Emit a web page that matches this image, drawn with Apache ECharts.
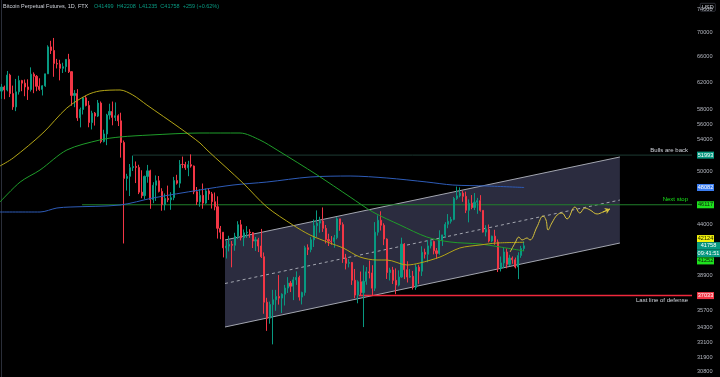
<!DOCTYPE html>
<html>
<head>
<meta charset="utf-8">
<script src="https://cdn.jsdelivr.net/npm/echarts/dist/echarts.min.js"></script>
<style>
  html, body { margin: 0; padding: 0; background: #000; }
  #chart { width: 720px; height: 377px; }
</style>
</head>
<body>
<div id="chart"></div>
<script>
// Daily candles, first day 2021-10-23, rows are [open, high, low, close]
const firstDay = '2021-10-23';
const candles = [
  [60688, 61747, 59562, 61286], [61286, 61500, 59510, 60852], [60852, 63710, 60650, 63078],
  [63078, 63293, 59817, 60328], [60328, 61496, 58000, 58413], [58413, 62499, 57820, 60575],
  [60575, 62980, 60174, 62253], [62253, 62359, 60673, 61859], [61859, 62405, 59945, 61300],
  // Nov
  [61300, 62437, 59405, 60911], [60911, 64270, 60624, 63219], [63219, 63500, 60382, 62896],
  [62896, 63086, 60677, 61395], [61395, 62595, 60721, 60937], [60937, 61560, 60050, 61470],
  [61470, 63286, 61322, 63273], [63273, 67789, 63273, 67525], [67525, 68530, 66382, 66947],
  [66947, 69000, 62822, 64882], [64882, 65600, 64100, 64774], [64774, 65450, 62278, 64122],
  [64122, 64990, 63401, 64380], [64380, 65550, 63576, 65519], [65519, 66401, 63400, 63606],
  [63606, 63617, 58574, 60058], [60058, 60840, 58373, 60344], [60344, 60976, 56474, 56891],
  [56891, 58320, 55600, 58052], [58052, 59845, 57353, 59707], [59707, 60029, 58486, 58622],
  [58622, 59266, 55610, 56247], [56247, 57875, 55317, 57541], [57541, 57700, 55837, 57138],
  [57138, 59398, 57000, 58960], [58960, 59188, 53500, 53726], [53726, 55280, 53610, 54721],
  [54721, 57445, 53256, 57274], [57274, 58865, 56666, 57776], [57776, 59176, 55875, 56950],
  // Dec
  [56950, 59053, 56458, 57184], [57184, 57375, 55777, 56480], [56480, 57600, 51680, 53601],
  [53601, 53859, 42000, 49152], [49152, 49699, 47727, 49396], [49396, 50891, 47100, 50441],
  [50441, 51936, 50039, 50589], [50589, 51200, 48600, 50471], [50471, 50797, 47320, 47545],
  [47545, 50125, 46852, 47140], [47140, 49485, 46751, 49389], [49389, 50777, 48638, 50053],
  [50053, 50189, 45672, 46702], [46702, 48700, 46290, 48343], [48343, 49500, 46547, 48864],
  [48864, 49436, 47511, 47632], [47632, 47995, 45456, 46131], [46131, 47392, 45500, 46834],
  [46834, 48300, 46406, 46681], [46681, 47537, 45558, 46914], [46914, 49328, 46630, 48889],
  [48889, 49576, 48421, 48588], [48588, 51375, 48050, 50838], [50838, 51810, 50384, 50821],
  [50821, 51156, 50171, 50428], [50428, 51280, 49412, 50809], [50809, 52088, 50449, 50640],
  [50640, 50704, 47313, 47588], [47588, 48139, 46096, 46444], [46444, 47900, 45900, 47178],
  [47178, 48548, 45678, 46306],
  // Jan
  [46306, 47954, 46208, 47686], [47686, 47990, 46654, 47345], [47345, 47570, 45696, 46458],
  [46458, 47505, 45502, 45897], [45897, 47070, 42500, 43569], [43569, 43816, 42430, 43160],
  [43160, 43145, 40610, 41557], [41557, 42300, 40501, 41733], [41733, 42786, 41200, 41911],
  [41911, 42248, 39650, 41821], [41821, 43100, 41268, 42735], [42735, 44322, 42450, 43949],
  [43949, 44458, 42311, 42591], [42591, 43448, 41725, 43099], [43099, 43800, 42568, 43177],
  [43177, 43476, 42578, 43113], [43113, 43180, 41540, 42250], [42250, 42675, 41250, 42375],
  [42375, 42578, 41138, 41744], [41744, 43505, 40553, 40680], [40680, 41100, 35440, 36445],
  [36445, 36835, 34008, 35071], [35071, 36499, 34601, 36244], [36244, 37550, 32917, 36660],
  [36660, 37545, 35701, 36958], [36958, 38919, 36234, 36809], [36809, 37234, 35507, 37160],
  [37160, 38000, 36155, 37716], [37716, 38720, 37268, 38166], [38166, 38359, 37351, 37881],
  [37881, 38744, 36632, 38466],
  // Feb
  [38466, 39265, 38000, 38694], [38694, 38855, 36586, 36896], [36896, 37387, 36250, 37311],
  [37311, 41772, 37026, 41574], [41574, 41913, 40843, 41382], [41382, 42656, 41116, 42380],
  [42380, 44500, 41645, 43840], [43840, 45492, 42666, 44118], [44118, 44798, 43117, 44338],
  [44338, 45821, 43187, 43565], [43565, 43920, 42000, 42407], [42407, 43000, 41748, 42244],
  [42244, 42760, 41867, 42197], [42197, 42876, 41570, 42586], [42586, 44750, 42428, 44575],
  [44575, 44585, 43310, 43961], [43961, 44200, 40073, 40538], [40538, 40959, 39450, 40031],
  [40031, 40444, 39639, 40122], [40122, 40150, 38000, 38431], [38431, 39494, 36800, 37075],
  [37075, 38429, 36350, 38287], [38287, 39249, 37036, 37296], [37296, 39843, 34322, 38328],
  [38328, 39683, 38014, 39219], [39219, 40300, 38600, 39116], [39116, 39855, 37000, 37700],
  [37700, 44225, 37450, 43160],
  // Mar
  [43160, 44949, 42809, 44421], [44421, 45400, 43334, 43892], [43892, 44101, 41832, 42454],
  [42454, 42527, 38550, 39148], [39148, 39613, 38407, 39397], [39397, 39693, 38088, 38420],
  [38420, 39547, 37155, 37988], [37988, 39362, 37867, 38730], [38730, 42594, 38656, 41941],
  [41941, 42039, 38539, 39422], [39422, 40236, 38223, 38729], [38729, 39486, 38660, 38807],
  [38807, 39310, 37578, 37777], [37777, 39947, 37555, 39671], [39671, 39887, 38098, 39280],
  [39280, 41718, 38828, 41114], [41114, 41478, 40500, 40917], [40917, 42325, 40135, 41757],
  [41757, 42400, 41499, 42201], [42201, 42296, 40911, 41262], [41262, 41544, 40467, 41002],
  [41002, 43361, 40875, 42364], [42364, 42893, 41751, 42882], [42882, 44220, 42560, 43991],
  [43991, 45094, 43579, 44313], [44313, 44792, 44071, 44511], [44511, 46999, 44422, 46827],
  [46827, 48189, 46663, 47122], [47122, 48096, 46950, 47434], [47434, 47700, 46445, 47067],
  [47067, 47600, 45200, 45510],
  // Apr
  [45510, 46720, 44200, 46283], [46283, 47213, 45620, 45811], [45811, 47444, 45530, 46407],
  [46407, 46890, 45118, 46580], [46580, 47200, 45353, 45497], [45497, 45507, 43121, 43170],
  [43170, 43900, 42727, 43444], [43444, 43970, 42107, 42252], [42252, 42800, 42125, 42753],
  [42753, 43410, 41868, 42158], [42158, 42414, 39200, 39530], [39530, 40699, 39254, 40074],
  [40074, 41561, 39588, 41147], [41147, 41500, 39551, 39942], [39942, 40870, 39766, 40551],
  [40551, 40709, 39991, 40378], [40378, 40595, 39546, 39678], [39678, 41116, 38536, 40801],
  [40801, 41760, 40571, 41500], [41499, 42208, 41235, 41758]
];
const emptyDaysAfter = 57;

// moving averages: [day index, price]
const maYellow = [
  [-0.5, 50645], [4, 51633], [14.2, 54845], [22.4, 58261], [29.3, 60118], [33.7, 60705],
  [40.6, 60851], [45, 60118], [49.8, 58683], [61.1, 55511], [68, 53535], [70.4, 52640],
  [82.7, 48608], [90.9, 45866], [99.8, 43918], [105.7, 42869], [112.5, 42046], [117, 41546],
  [122.8, 40650], [128.6, 40357], [132, 40357], [138.9, 39872], [143.3, 40066], [150.2, 40650],
  [157, 41546], [163.9, 41848], [169.7, 42046], [179, 42124]
];
const maGreen = [
  [-0.5, 46424], [6.4, 48722], [13.2, 50155], [22.4, 52640], [33.7, 53929], [40.6, 54322],
  [50.9, 54580], [68, 54845], [81.7, 54845], [88.5, 53929], [94.4, 52640], [108.1, 49560],
  [119.4, 46991], [127.2, 45318], [136.5, 43918], [145.7, 42658], [153.6, 42154],
  [163.9, 41944], [170.7, 41648], [179, 41252]
];
const maBlue = [
  [-0.5, 45318], [13.2, 45318], [19, 45760], [23.5, 45866], [40.6, 46089], [51.9, 46880],
  [68, 47796], [79.3, 48370], [90.9, 48722], [105.7, 49315], [119.4, 49434], [132, 49196],
  [145.7, 48722], [154.6, 48370], [166.3, 48258], [179, 48082]
];

// drawings
const channelTop = [[76.56, 42357], [211.8, 51758]];
const channelMid = [[76.56, 38129], [211.8, 46648]];
const channelBottom = [[76.56, 34328], [211.8, 42046]];
const projection = [
  [174.2, 41146], [175.9, 42046], [177.2, 42658], [178.3, 42357], [180, 42560], [181, 42357],
  [183.4, 43708], [185.5, 44884], [186.5, 44450], [187.2, 43393], [188.5, 44128], [190.3, 44989],
  [192, 45206], [193.7, 44562], [196.4, 45866], [198.1, 45206], [199.8, 45760], [201.6, 45535],
  [204, 45101], [206, 45318], [208.4, 45647]
];
const levelPrices = [51993, 46117, 37033];
const levelStarts = [45.1, 27.6, 122.4];
const levelTexts = ['Bulls are back', 'Next stop', 'Last line of defense'];

const axisTicks = [74000, 70000, 66000, 62000, 58000, 56000, 54000, 50000, 44000,
  38900, 35700, 34300, 33100, 31900, 30800];
const priceTags = [51993, 48082, 46117, 42124, 41758, 41252, 37033];

const yMin = 30422;
const yMax = 75625;

// build
const slots = candles.length + emptyDaysAfter;
const days = [];
const d0 = new Date(firstDay + 'T00:00:00Z');
for (let i = 0; i < slots; i++) {
  const d = new Date(d0.getTime() + i * 86400000);
  days.push(d.toISOString().slice(0, 10));
}
const kData = candles.map(c => [c[0], c[3], c[2], c[1]]);
const xEnd = slots - 0.5;

const font = 'Liberation Sans, Arial, sans-serif';
const tagBase = { fontSize: 5.6, fontFamily: font, height: 7, lineHeight: 7, align: 'center', width: 17 };

function tagLabel(value) {
  const v = Math.round(value);
  if (v === 51993) return '{teal|51993}';
  if (v === 48082) return '{blue|48082}';
  if (v === 46117) return '{lime|46117}';
  if (v === 42124) return '{yel|42124}\n{sp7| }';
  if (v === 41758) return '{sp75| }\n{last|41758}\n{last|09:41:51}';
  if (v === 41252) return '{sp20| }\n{lime|41252}';
  if (v === 37033) return '{red|37033}';
  return '{n|' + v + '}';
}

// the line is drawn by the series, the markLine only carries the text
function levelSeries(i, color, width, pos) {
  return {
    type: 'line', xAxisIndex: 1, yAxisIndex: 0, z: 2, silent: true,
    symbol: 'none', color: color,
    lineStyle: { color: color, width: width },
    data: [[levelStarts[i], levelPrices[i]], [xEnd, levelPrices[i]]],
    markLine: {
      silent: true, symbol: ['none', 'none'], animation: false,
      lineStyle: { color: color, width: 0 },
      label: {
        show: true, position: pos, formatter: levelTexts[i],
        color: i === 1 ? '#19e619' : '#d1d4dc',
        fontSize: 6, fontFamily: font, distance: [4, 2]
      },
      data: [[{ coord: [levelStarts[i], levelPrices[i]] }, { coord: [xEnd, levelPrices[i]] }]]
    }
  };
}

function line(data, color, width, z, extra) {
  return Object.assign({
    type: 'line', xAxisIndex: 1, yAxisIndex: 0, z: z, silent: true,
    symbol: 'none', smooth: 0.3, data: data, color: color,
    lineStyle: { color: color, width: width }
  }, extra || {});
}

const chart = echarts.init(document.getElementById('chart'));
chart.setOption({
  backgroundColor: '#000',
  animation: false,
  grid: { left: 0, right: 28, top: 0, bottom: 0, containLabel: false, outerBoundsMode: 'none' },
  xAxis: [
    { type: 'category', data: days, boundaryGap: true, show: false },
    { type: 'value', min: -0.5, max: xEnd, show: false }
  ],
  yAxis: [{
    type: 'log', logBase: 10, min: yMin, max: yMax, position: 'right', scale: true,
    axisLine: { show: true, lineStyle: { color: '#2a2e39', width: 1 } },
    axisTick: { show: false },
    splitLine: { show: false },
    axisLabel: {
      margin: 5,
      customValues: axisTicks.concat(priceTags),
      formatter: tagLabel,
      rich: {
        n: { color: '#b2b5be', fontSize: 5.6, fontFamily: font },
        teal: Object.assign({}, tagBase, { backgroundColor: '#089981', color: '#fff' }),
        blue: Object.assign({}, tagBase, { backgroundColor: '#3a7cf0', color: '#fff' }),
        lime: Object.assign({}, tagBase, { backgroundColor: '#1ee01e', color: '#0b1a0b' }),
        yel: Object.assign({}, tagBase, { backgroundColor: '#f2f20d', color: '#1a1a00' }),
        red: Object.assign({}, tagBase, { backgroundColor: '#f23645', color: '#fff' }),
        last: Object.assign({}, tagBase, { backgroundColor: '#089981', color: '#fff', width: 23, height: 7.5, lineHeight: 7.5 }),
        sp7: { fontSize: 1, lineHeight: 7.4, height: 7.4 },
        sp75: { fontSize: 1, lineHeight: 7.5, height: 7.5 },
        sp20: { fontSize: 1, lineHeight: 20, height: 20 }
      }
    }
  }],
  graphic: [
    { type: 'text', left: 3, top: 3, silent: true,
      style: { text: 'Bitcoin Perpetual Futures, 1D, FTX', fill: '#d1d4dc', font: '5.5px ' + font } },
    { type: 'text', left: 94, top: 3, silent: true,
      style: { text: 'O41499  H42208  L41235  C41758  +259 (+0.62%)', fill: '#089981', font: '5.5px ' + font } },
    { type: 'group', left: 700, top: 3, silent: true, children: [
      { type: 'rect', shape: { x: 0, y: 0, width: 15, height: 8, r: 1 },
        style: { fill: '#000', stroke: '#4a4e59', lineWidth: 0.6 } },
      { type: 'text', style: { x: 7.5, y: 4.2, text: 'USD', align: 'center', verticalAlign: 'middle',
        fill: '#d1d4dc', font: '5.5px ' + font } }
    ] }
  ],
  series: [
    {
      type: 'custom', xAxisIndex: 1, yAxisIndex: 0, z: 1, silent: true,
      data: [channelTop[0]],
      renderItem: function (params, api) {
        const pts = [channelTop[0], channelTop[1], channelBottom[1], channelBottom[0]].map(p => api.coord(p));
        return { type: 'polygon', shape: { points: pts }, style: { fill: '#2b2c3f' } };
      }
    },
    line(channelTop, '#a3a6b0', 1, 2, { smooth: false }),
    line(channelBottom, '#a3a6b0', 1, 2, { smooth: false }),
    line(channelMid, '#a3a6b0', 1, 2, { smooth: false, lineStyle: { color: '#a3a6b0', width: 1, type: [3, 3] } }),
    levelSeries(0, '#1d3b33', 1, 'insideEndTop'),
    levelSeries(1, '#21802b', 1, 'insideEndTop'),
    levelSeries(2, '#f0283c', 1.5, 'insideEndBottom'),
    {
      type: 'candlestick', xAxisIndex: 0, yAxisIndex: 0, z: 3, silent: true,
      data: kData, barWidth: 1.6,
      itemStyle: {
        color: '#089981', color0: '#f23645',
        borderColor: '#089981', borderColor0: '#f23645', borderWidth: 1
      }
    },
    line(maBlue, '#2e5cb8', 1, 4),
    line(maGreen, '#1f9d2a', 1, 4),
    line(maYellow, '#b3a516', 1, 4),
    line(projection, '#d6c23c', 1, 5, {
      smooth: 0.4,
      markLine: {
        silent: true, animation: false, symbol: ['none', 'arrow'], symbolSize: 5,
        lineStyle: { color: '#d6c23c', width: 1, type: 'solid' },
        label: { show: false },
        data: [[{ coord: projection[projection.length - 2] }, { coord: projection[projection.length - 1] }]]
      }
    })
  ]
});
</script>
</body>
</html>
